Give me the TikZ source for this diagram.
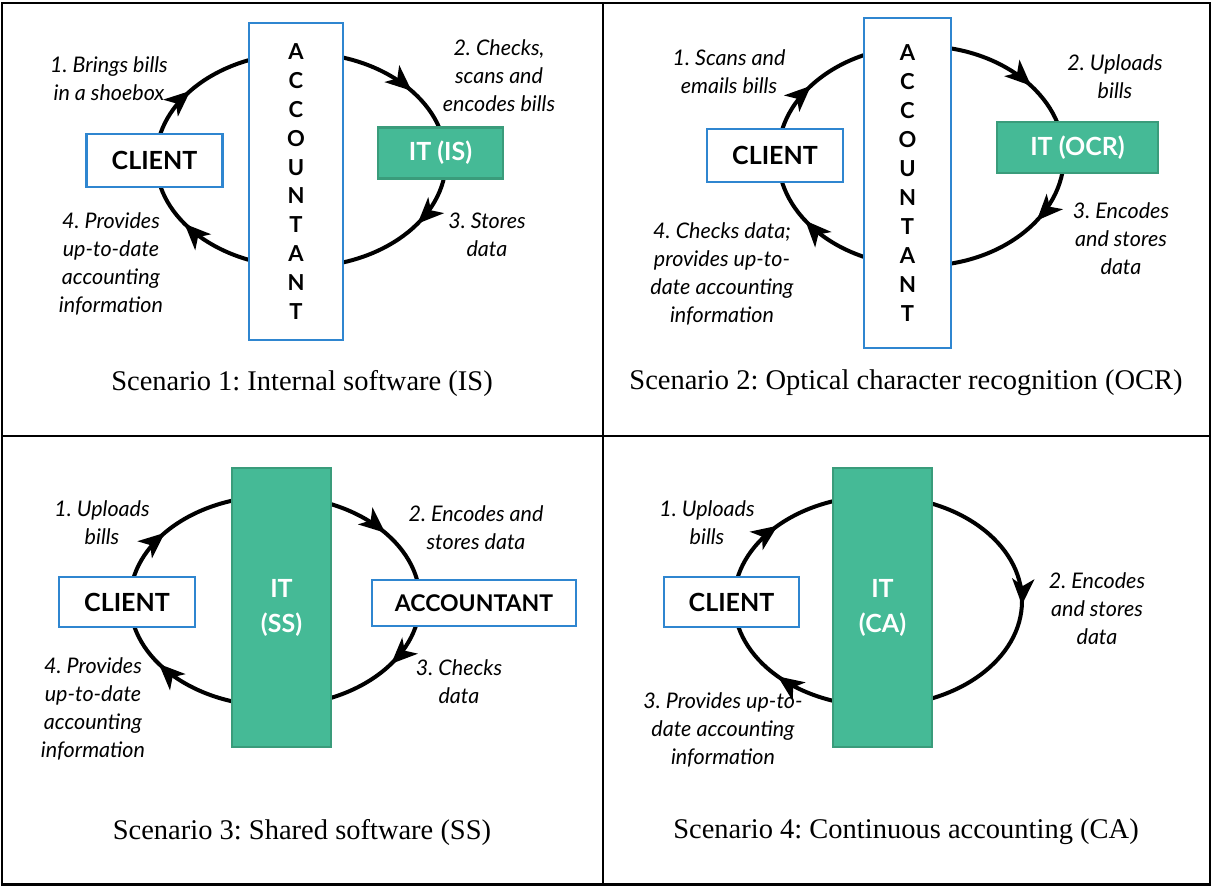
\documentclass[tikz,border=0pt]{standalone}
\usepackage{fontspec}
\setmainfont{Liberation Serif}
\newfontfamily\labelfont{Lato}
\usetikzlibrary{arrows.meta,decorations.markings,backgrounds}
\frenchspacing

\definecolor{boxblue}{RGB}{47,134,208}
\definecolor{itgreen}{RGB}{69,186,150}
\definecolor{itdark}{RGB}{58,156,123}

\begin{document}
\begin{tikzpicture}[x=1pt, y=-1pt,
    flowtip/.tip={Stealth[length=26pt, width=22pt, inset=7pt]},
    party/.style={draw=boxblue, line width=2.2pt, fill=white, inner sep=0pt,
      font=\labelfont\bfseries\fontsize{25}{28}\selectfont},
    itbox/.style={party, draw=itdark, fill=itgreen, text=white},
    vert/.style={align=center, font=\labelfont\bfseries\fontsize{22}{28.9}\selectfont},
    phase/.style={align=center, font=\labelfont\itshape\fontsize{21.5}{28}\selectfont},
    scenario/.style={font=\fontsize{28.5}{32}\selectfont},
    loopline/.style={line width=4pt, postaction={decorate}},
    fourstep/.style={decoration={markings,
      mark=at position .10 with {\arrow{flowtip}},
      mark=at position .40 with {\arrow{flowtip}},
      mark=at position .59 with {\arrow{flowtip}},
      mark=at position .91 with {\arrow{flowtip}}}},
    threestep/.style={decoration={markings,
      mark=at position .115 with {\arrow{flowtip}},
      mark=at position .505 with {\arrow{flowtip}},
      mark=at position .885 with {\arrow{flowtip}}}}]

  \useasboundingbox (0,0) rectangle (1212,886);

  % Ruudukko
  \draw [line width=2.2pt] (2,3) rectangle (1210,884.5);
  \draw [line width=2.2pt] (603,3) -- (603,884.5);
  \draw [line width=2.2pt] (2,436) -- (1210,436);

  % Scenario 1
  \node [party, minimum width=94, minimum height=317, vert] (acc1) at (296,181.5)
    {A\\C\\C\\O\\U\\N\\T\\A\\N\\T};
  \node [party, minimum width=136, minimum height=53] (client1) at (154.5,160.5) {CLIENT};
  \node [itbox, minimum width=125, minimum height=51] (it1) at (440.5,153) {IT (IS)};
  \coordinate (c1) at (301,160);
  \node [phase] (s11) at (109,79) {1. Brings bills\\in a shoebox};
  \node [phase] (s12) at (499,76) {2. Checks,\\scans and\\encodes bills};
  \node [phase] (s13) at (487,235) {3. Stores\\data};
  \node [phase] (s14) at (111,264) {4. Provides\\up-to-date\\accounting\\information};
  \node [scenario] (cap1) at (302,383) {Scenario 1: Internal software (IS)};

  % Scenario 2
  \node [party, minimum width=87, minimum height=330, vert] (acc2) at (907.5,183)
    {A\\C\\C\\O\\U\\N\\T\\A\\N\\T};
  \node [party, minimum width=136, minimum height=53] (client2) at (775,155.5) {CLIENT};
  \node [itbox, minimum width=161, minimum height=51] (it2) at (1077.5,147.5) {IT (OCR)};
  \coordinate (c2) at (921,156);
  \node [phase] (s21) at (729,72) {1. Scans and\\emails bills};
  \node [phase] (s22) at (1115,76.5) {2. Uploads\\bills};
  \node [phase] (s23) at (1121,239) {3. Encodes\\and stores\\data};
  \node [phase] (s24) at (722,274) {4. Checks data;\\provides up-to-\\date accounting\\information};
  \node [scenario] (cap2) at (906,383) {Scenario 2: Optical character recognition (OCR)};

  % Scenario 3
  \node [itbox, minimum width=99, minimum height=279, align=center,
    font=\labelfont\bfseries\fontsize{25}{35}\selectfont] (it3) at (281.5,607.5) {IT\\(SS)};
  \node [party, minimum width=136, minimum height=50] (client3) at (127,602) {CLIENT};
  \node [party, minimum width=204, minimum height=46,
    font=\labelfont\bfseries\fontsize{23}{28}\selectfont] (acc3) at (474,603) {ACCOUNTANT};
  \coordinate (c3) at (275,601);
  \node [phase] (s31) at (102,523) {1. Uploads\\bills};
  \node [phase] (s32) at (476,528) {2. Encodes and\\stores data};
  \node [phase] (s33) at (459,681.5) {3. Checks\\data};
  \node [phase] (s34) at (93,709) {4. Provides\\up-to-date\\accounting\\information};
  \node [scenario] (cap3) at (302,832) {Scenario 3: Shared software (SS)};

  % Scenario 4
  \node [itbox, minimum width=99, minimum height=279, align=center,
    font=\labelfont\bfseries\fontsize{25}{35}\selectfont] (it4) at (882.5,607.5) {IT\\(CA)};
  \node [party, minimum width=135, minimum height=50] (client4) at (731.5,602) {CLIENT};
  \coordinate (c4) at (878,601);
  \node [phase] (s41) at (707,523) {1. Uploads\\bills};
  \node [phase] (s42) at (1097,609) {2. Encodes\\and stores\\data};
  \node [phase] (s43) at (723,730) {3. Provides up-to-\\date accounting\\information};
  \node [scenario] (cap4) at (906,832) {Scenario 4: Continuous accounting (CA)};

  % Kierrot laatikoiden taakse
  \begin{scope}[on background layer]
    \draw [loopline, fourstep] (c1) ++(180:145 and 107)
      arc [start angle=180, end angle=540, x radius=145, y radius=107];
    \draw [loopline, fourstep] (c2) ++(180:143 and 110)
      arc [start angle=180, end angle=540, x radius=143, y radius=110];
    \draw [loopline, fourstep] (c3) ++(180:145 and 105)
      arc [start angle=180, end angle=540, x radius=145, y radius=105];
    \draw [loopline, threestep] (c4) ++(180:144 and 105)
      arc [start angle=180, end angle=540, x radius=144, y radius=105];
  \end{scope}
\end{tikzpicture}
\end{document}
